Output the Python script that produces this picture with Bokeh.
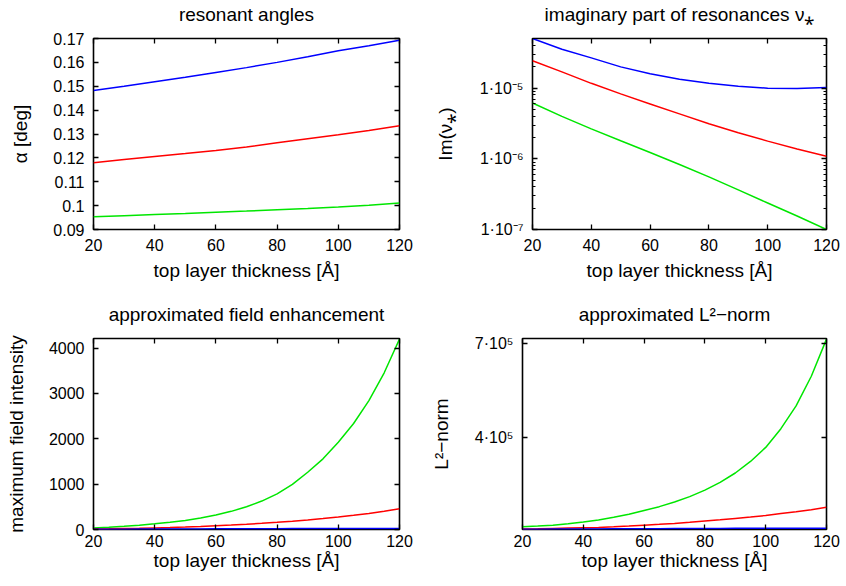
from bokeh.plotting import figure
from bokeh.layouts import column, row
from bokeh.models import (LinearAxis, LogAxis, FixedTicker, CustomJSTickFormatter,
                          Range1d)
from bokeh.embed import file_html
from bokeh.resources import INLINE

# ---------------------------------------------------------------- data
thickness = [20, 30, 40, 50, 60, 70, 80, 90, 100, 110, 120]

alpha_blue = [0.1482, 0.1500, 0.1519, 0.1538, 0.1558, 0.1578, 0.1600, 0.1624, 0.1649, 0.1670, 0.1693]
alpha_red = [0.1180, 0.1193, 0.1206, 0.1218, 0.1231, 0.1246, 0.1263, 0.1280, 0.1297, 0.1315, 0.1335]
alpha_green = [0.0953, 0.0958, 0.0963, 0.0967, 0.0972, 0.0977, 0.0983, 0.0988, 0.0994, 0.1002, 0.1011]

im_blue = [5.04e-5, 3.55e-5, 2.68e-5, 2.00e-5, 1.60e-5, 1.34e-5, 1.17e-5, 1.06e-5, 1.00e-5, 0.99e-5, 1.02e-5]
im_red = [2.44e-5, 1.70e-5, 1.17e-5, 8.3e-6, 5.98e-6, 4.32e-6, 3.13e-6, 2.34e-6, 1.78e-6, 1.38e-6, 1.09e-6]
im_green = [6.17e-6, 3.98e-6, 2.65e-6, 1.80e-6, 1.23e-6, 8.3e-7, 5.56e-7, 3.63e-7, 2.37e-7, 1.55e-7, 1.0e-7]

thickness_fine = [20, 25, 30, 35, 40, 45, 50, 55, 60, 65, 70,
                  75, 80, 85, 90, 95, 100, 105, 110, 115, 120]

field_green = [35, 50, 70, 94, 125, 158, 200, 253, 320, 400, 500,
               627, 786, 996, 1262, 1558, 1923, 2337, 2841, 3454, 4200]
field_red = [12, 16, 21, 27, 35, 44, 55, 67, 82, 98, 117,
             137, 160, 184, 212, 242, 275, 313, 355, 402, 456]
field_blue = [5, 6, 8, 9, 10, 11, 12, 13, 15, 16, 17,
              18, 19, 20, 21, 22, 22, 22, 22, 22, 22]

norm_green = [1.130e5, 1.152e5, 1.180e5, 1.223e5, 1.280e5, 1.346e5, 1.430e5, 1.527e5, 1.650e5, 1.772e5, 1.920e5,
              2.093e5, 2.300e5, 2.550e5, 2.850e5, 3.220e5, 3.670e5, 4.270e5, 5.000e5, 5.950e5, 7.140e5]
norm_red = [1.060e5, 1.065e5, 1.075e5, 1.085e5, 1.095e5, 1.105e5, 1.125e5, 1.150e5, 1.180e5, 1.205e5, 1.235e5,
            1.270e5, 1.310e5, 1.350e5, 1.395e5, 1.440e5, 1.490e5, 1.550e5, 1.610e5, 1.675e5, 1.750e5]
norm_blue = [1.050e5, 1.052e5, 1.054e5, 1.056e5, 1.058e5, 1.060e5, 1.062e5, 1.064e5, 1.066e5, 1.068e5, 1.070e5,
             1.072e5, 1.074e5, 1.076e5, 1.078e5, 1.080e5, 1.080e5, 1.080e5, 1.080e5, 1.080e5, 1.080e5]

x_ticks = [20, 40, 60, 80, 100, 120]
alpha_ticks = [0.09, 0.10, 0.11, 0.12, 0.13, 0.14, 0.15, 0.16, 0.17]
im_ticks = [1e-7, 1e-6, 1e-5]
field_ticks = [0, 1000, 2000, 3000, 4000]
norm_ticks = [4e5, 7e5]

BLUE = "#0000ff"
RED = "#ff0000"
GREEN = "#00e600"
FONT = "Liberation Sans"
XLABEL = "top layer thickness [Å]"
X_MIN, X_MAX = 20, 120

BLANK = CustomJSTickFormatter(code="return ''")


def style_axis(ax, ticker, formatter, label=None, minor=False,
               tick_standoff=9, label_standoff=12, mirror=False):
    ax.ticker = ticker
    ax.formatter = formatter
    ax.axis_line_color = None
    ax.major_tick_in = 5
    ax.major_tick_out = 0
    ax.major_tick_line_color = "black"
    ax.major_tick_line_width = 1.3
    if minor:
        ax.minor_tick_in = 3
        ax.minor_tick_out = 0
        ax.minor_tick_line_color = "black"
        ax.minor_tick_line_width = 1.1
    else:
        ax.minor_tick_line_color = None
    ax.major_label_text_font = FONT
    ax.major_label_text_font_size = "1px" if mirror else "16px"
    ax.major_label_text_color = "black"
    ax.major_label_standoff = 0 if mirror else tick_standoff
    if label is not None:
        ax.axis_label = label
        ax.axis_label_text_font = FONT
        ax.axis_label_text_font_size = "19px"
        ax.axis_label_text_font_style = "normal"
        ax.axis_label_text_color = "black"
        ax.axis_label_standoff = label_standoff


def make_fig(y_range, left, right, top, bottom, fw, fh, log=False):
    p = figure(width=fw + left + right, height=fh + top + bottom,
               frame_width=fw, frame_height=fh,
               min_border_left=left, min_border_right=right,
               min_border_top=top, min_border_bottom=bottom,
               x_range=Range1d(X_MIN, X_MAX), y_range=y_range,
               y_axis_type="log" if log else "linear",
               output_backend="svg", toolbar_location=None)
    p.grid.visible = False
    p.outline_line_color = "black"
    p.outline_line_width = 1.6
    p.background_fill_color = "white"
    p.border_fill_color = "white"
    return p


def add_mirrors(p, title, yticker, log=False, minor=False):
    # the top axis repeats the x ticks and carries the panel heading
    top_ax = LinearAxis()
    style_axis(top_ax, FixedTicker(ticks=x_ticks), BLANK, label=title,
               label_standoff=14, mirror=True)
    p.add_layout(top_ax, "above")
    right_ax = LogAxis() if log else LinearAxis()
    style_axis(right_ax, yticker, BLANK, minor=minor, mirror=True)
    p.add_layout(right_ax, "right")


def draw(p, xs, series):
    for ys, color in series:
        p.line(xs, ys, line_color=color, line_width=1.5)


x_fmt = CustomJSTickFormatter(code="return String(tick)")

# ---------------------------------------------------------------- resonant angles
p1 = make_fig(Range1d(0.09, 0.17), 93, 24, 38, 64, 306, 191)
style_axis(p1.xaxis[0], FixedTicker(ticks=x_ticks), x_fmt, XLABEL,
           tick_standoff=9, label_standoff=6)
style_axis(p1.yaxis[0], FixedTicker(ticks=alpha_ticks),
           CustomJSTickFormatter(code="return String(parseFloat(tick.toFixed(2)))"),
           "α [deg]", label_standoff=19)
add_mirrors(p1, "resonant angles", FixedTicker(ticks=alpha_ticks))
draw(p1, thickness, [(alpha_blue, BLUE), (alpha_red, RED), (alpha_green, GREEN)])

# ---------------------------------------------------------------- imaginary parts (log)
im_minor = [k * t for t in im_ticks for k in range(2, 10)]
sup_fmt = CustomJSTickFormatter(code="""
    const sup = {"-": "\u207b", "0": "\u2070", "1": "\u00b9", "2": "\u00b2", "3": "\u00b3",
                 "4": "\u2074", "5": "\u2075", "6": "\u2076", "7": "\u2077", "8": "\u2078", "9": "\u2079"};
    const e = Math.round(Math.log10(tick));
    return "1\u00b710" + String(e).split("").map(c => sup[c]).join("");
""")
p2 = make_fig(Range1d(1e-7, 5.04e-5), 109, 20, 38, 64, 294, 191, log=True)
style_axis(p2.xaxis[0], FixedTicker(ticks=x_ticks), x_fmt, XLABEL,
           tick_standoff=9, label_standoff=6)
style_axis(p2.yaxis[0], FixedTicker(ticks=im_ticks, minor_ticks=im_minor), sup_fmt,
           "Im(ν⁎)", minor=True, label_standoff=21)
add_mirrors(p2, "imaginary part of resonances ν⁎",
            FixedTicker(ticks=im_ticks, minor_ticks=im_minor), log=True, minor=True)
draw(p2, thickness, [(im_blue, BLUE), (im_red, RED), (im_green, GREEN)])

# ---------------------------------------------------------------- field enhancement
p3 = make_fig(Range1d(0, 4210), 93, 24, 45, 57, 306, 191)
style_axis(p3.xaxis[0], FixedTicker(ticks=x_ticks), x_fmt, XLABEL,
           tick_standoff=5, label_standoff=0)
style_axis(p3.yaxis[0], FixedTicker(ticks=field_ticks), x_fmt,
           "maximum field intensity", label_standoff=19)
add_mirrors(p3, "approximated field enhancement", FixedTicker(ticks=field_ticks))
draw(p3, thickness_fine, [(field_green, GREEN), (field_red, RED), (field_blue, BLUE)])

# ---------------------------------------------------------------- L2 norm
p4 = make_fig(Range1d(1.04e5, 7.16e5), 99, 20, 45, 57, 304, 191)
style_axis(p4.xaxis[0], FixedTicker(ticks=x_ticks), x_fmt, XLABEL,
           tick_standoff=5, label_standoff=0)
style_axis(p4.yaxis[0], FixedTicker(ticks=norm_ticks),
           CustomJSTickFormatter(code="return (tick / 1e5).toFixed(0) + '\u00b710\u2075'"),
           "L²−norm", label_standoff=20)
add_mirrors(p4, "approximated L²−norm", FixedTicker(ticks=norm_ticks))
draw(p4, thickness_fine, [(norm_green, GREEN), (norm_red, RED), (norm_blue, BLUE)])

layout = column(row(p1, p2), row(p3, p4))
open("out.html", "w").write(file_html(layout, INLINE))
